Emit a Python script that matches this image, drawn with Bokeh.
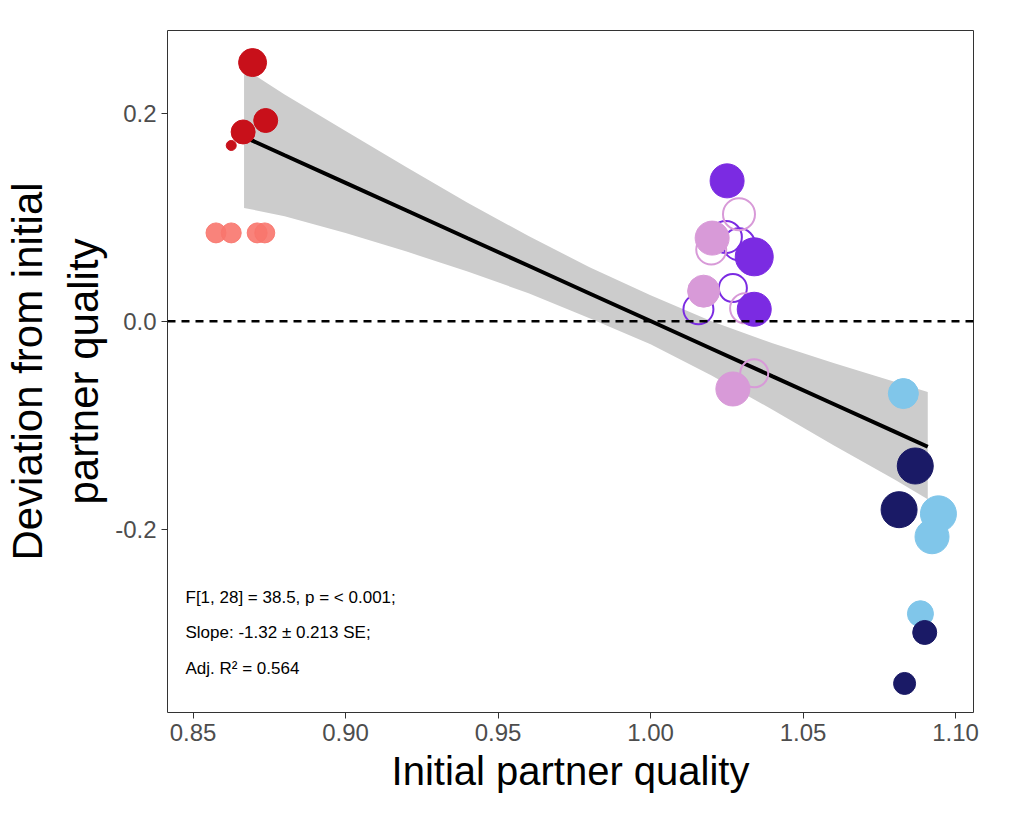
from bokeh.plotting import figure
from bokeh.models import Span, Label, FixedTicker
from bokeh.embed import file_html
from bokeh.resources import INLINE

red_x = [0.8695, 0.8738, 0.8664, 0.8625]
red_y = [0.2487, 0.193, 0.182, 0.169]
red_s = [28, 24, 24, 10]
salmon_x = [0.8575, 0.8625, 0.8710, 0.8735]
salmon_y = [0.085, 0.085, 0.085, 0.085]
salmon_s = [20, 20, 20, 20]
purple_x = [1.0251, 1.034, 1.034]
purple_y = [0.135, 0.062, 0.0116]
purple_s = [34, 38, 34]
purple_open_x = [1.0247, 1.029, 1.027, 1.0157]
purple_open_y = [0.081, 0.074, 0.032, 0.0116]
purple_open_s = [32, 32, 28, 30]
plum_x = [1.0202, 1.0174, 1.027]
plum_y = [0.080, 0.029, -0.065]
plum_s = [34, 32, 34]
plum_open_x = [1.029, 1.0199, 1.031, 1.034]
plum_open_y = [0.103, 0.069, 0.0125, -0.05]
plum_open_s = [32, 30, 30, 28]
sky_x = [1.0829, 1.0944, 1.0923, 1.0885]
sky_y = [-0.0694, -0.185, -0.207, -0.281]
sky_s = [30, 36, 34, 26]
navy_x = [1.0868, 1.0815, 1.0899, 1.0833]
navy_y = [-0.139, -0.181, -0.299, -0.348]
navy_s = [36, 36, 24, 22]

fit_x = [0.8667, 0.88, 0.90, 0.92, 0.94, 0.96, 0.98, 1.00, 1.02, 1.04, 1.06, 1.08, 1.0909]
fit_y = [0.1773, 0.1596, 0.1331, 0.1065, 0.0799, 0.0534, 0.0268, 0.0003, -0.0263, -0.0529, -0.0794, -0.1060, -0.1205]
band_hi = [0.243, 0.218, 0.183, 0.148, 0.114, 0.082, 0.052, 0.025, 0.000, -0.021, -0.040, -0.058, -0.068]
band_lo = [0.109, 0.101, 0.085, 0.067, 0.048, 0.027, 0.003, -0.022, -0.052, -0.085, -0.119, -0.152, -0.171]

x_ticks = [0.85, 0.90, 0.95, 1.00, 1.05, 1.10]
y_ticks = [-0.2, 0.0, 0.2]

p = figure(width=1000, height=795, output_backend="svg", toolbar_location=None,
           x_range=(0.8416, 1.1059), y_range=(-0.3759, 0.2795),
           min_border_left=69, min_border_top=30, min_border_right=27, min_border_bottom=10)
p.grid.visible = False
p.outline_line_color = "#333333"
p.outline_line_width = 1

p.varea(x=fit_x, y1=band_lo, y2=band_hi, fill_color="#cccccc", fill_alpha=1)
p.add_layout(Span(location=0, dimension="width", line_dash="8 6", line_width=2.5, line_color="black"))
p.line(fit_x, fit_y, line_width=4, line_color="black")

p.scatter(salmon_x, salmon_y, size=salmon_s, color="#F8766D", alpha=0.9)
p.scatter(red_x, red_y, size=red_s, color="#C8101A")
p.scatter(purple_open_x, purple_open_y, size=purple_open_s, fill_color=None, line_color="#7B2BE2", line_width=2)
p.scatter(plum_open_x, plum_open_y, size=plum_open_s, fill_color=None, line_color="#D89AD8", line_width=2)
p.scatter(plum_x, plum_y, size=plum_s, color="#D89AD8")
p.scatter(purple_x, purple_y, size=purple_s, color="#7B2BE2")
p.scatter(sky_x, sky_y, size=sky_s, color="#80C6EA")
p.scatter(navy_x, navy_y, size=navy_s, color="#1A1A66")

for i, t in enumerate(["F[1, 28] = 38.5, p = < 0.001;", " Slope: -1.32 \u00b1 0.213 SE;", " Adj. R\u00b2 = 0.564"]):
    p.add_layout(Label(x=0.8475, y=-0.265 - i * 0.0345, text=t, text_font="Liberation Sans",
                       text_font_size="17px", text_baseline="middle", text_color="black"))

p.xaxis.ticker = FixedTicker(ticks=x_ticks)
p.yaxis.ticker = FixedTicker(ticks=y_ticks)
p.xaxis.major_label_overrides = {0.85: "0.85", 0.9: "0.90", 0.95: "0.95", 1.0: "1.00", 1.05: "1.05", 1.1: "1.10"}
p.yaxis.major_label_overrides = {-0.2: "-0.2", 0.0: "0.0", 0.2: "0.2"}
for ax in (p.xaxis, p.yaxis):
    ax.major_label_text_font = "Liberation Sans"
    ax.major_label_text_font_size = "24px"
    ax.major_label_text_color = "#4d4d4d"
    ax.axis_label_text_font = "Liberation Sans"
    ax.axis_label_text_font_style = "normal"
    ax.axis_label_text_color = "black"
    ax.minor_tick_line_color = None
    ax.axis_line_color = None
    ax.major_tick_line_color = "#333333"
    ax.major_tick_out = 6
    ax.major_tick_in = 0
p.xaxis.axis_label = "Initial partner quality"
p.xaxis.axis_label_text_font_size = "40px"
p.yaxis.axis_label = "Deviation from initial\npartner quality"
p.yaxis.axis_label_text_font_size = "42px"

open("out.html", "w").write(file_html(p, INLINE))
